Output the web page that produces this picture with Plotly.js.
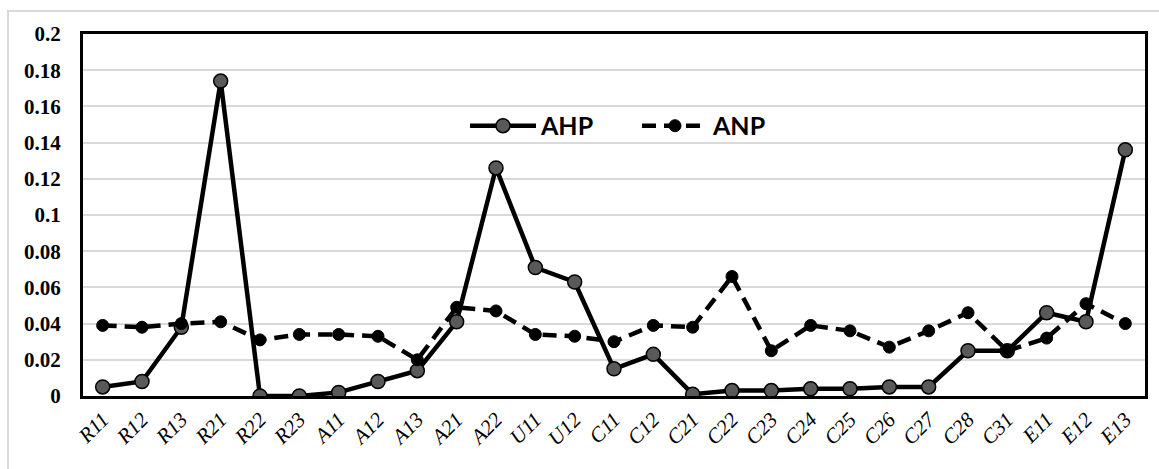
<!DOCTYPE html>
<html>
<head>
<meta charset="utf-8">
<script src="https://cdn.plot.ly/plotly-3.0.1.min.js"></script>
<style>
  html, body { margin: 0; padding: 0; background: #fff; }
  #frame { position: absolute; left: 7px; top: 10px; width: 1160px; height: 470px;
           border-left: 2px solid #d9d9d9; border-top: 2px solid #d9d9d9; box-sizing: border-box; }
  #chart { position: absolute; left: 0; top: 0; width: 1159px; height: 469px; }
</style>
</head>
<body>
<div id="frame"></div>
<div id="chart"></div>
<script>
const categories = ["R11","R12","R13","R21","R22","R23","A11","A12","A13","A21","A22","U11","U12",
  "C11","C12","C21","C22","C23","C24","C25","C26","C27","C28","C31","E11","E12","E13"];
const ahp = [0.005,0.008,0.038,0.174,0.000,0.000,0.002,0.008,0.014,0.041,0.126,0.071,0.063,
  0.015,0.023,0.001,0.003,0.003,0.004,0.004,0.005,0.005,0.025,0.025,0.046,0.041,0.136];
const anp = [0.039,0.038,0.040,0.041,0.031,0.034,0.034,0.033,0.020,0.049,0.047,0.034,0.033,
  0.030,0.039,0.038,0.066,0.025,0.039,0.036,0.027,0.036,0.046,0.025,0.032,0.051,0.040];

const traces = [
  { x: categories, y: ahp, name: "AHP", type: "scatter", mode: "lines+markers",
    line: { color: "#000", width: 4.5 },
    marker: { symbol: "circle", size: 14, color: "#595959", line: { color: "#000", width: 1.5 } } },
  { x: categories, y: anp, name: "ANP", type: "scatter", mode: "lines+markers",
    line: { color: "#000", width: 4.5, dash: "14px,8px" },
    marker: { symbol: "circle", size: 12, color: "#000", line: { color: "#000", width: 1 } } }
];

const layout = {
  width: 1159, height: 469,
  margin: { l: 83, r: 14, t: 34, b: 73, pad: 0 },
  paper_bgcolor: "rgba(0,0,0,0)", plot_bgcolor: "rgba(0,0,0,0)",
  showlegend: true,
  legend: { orientation: "h", x: 0.3597, y: 0.746, xanchor: "left", yanchor: "middle",
    bgcolor: "rgba(0,0,0,0)", itemwidth: 66, entrywidth: 91, entrywidthmode: "pixels",
    font: { family: "Lato, 'Open Sans', sans-serif", size: 25, weight: "bold", color: "#000" } },
  xaxis: { type: "category", range: [-0.5, 26.5], autorange: false,
    showline: true, mirror: true, linecolor: "#000", linewidth: 3,
    showgrid: false, ticks: "", tickangle: -45,
    tickfont: { family: "Liberation Serif", size: 21, style: "italic", color: "#000" } },
  yaxis: { range: [0, 0.2], autorange: false, dtick: 0.02, showline: true, mirror: true, linecolor: "#000", linewidth: 3,
    showgrid: true, gridcolor: "#d9d9d9", gridwidth: 2, zeroline: false, ticks: "",
    ticklabelstandoff: 15,
    tickfont: { family: "Liberation Serif", size: 21, weight: "bold", color: "#000" } }
};

Plotly.newPlot("chart", traces, layout, { displayModeBar: false, staticPlot: true });
</script>
</body>
</html>
